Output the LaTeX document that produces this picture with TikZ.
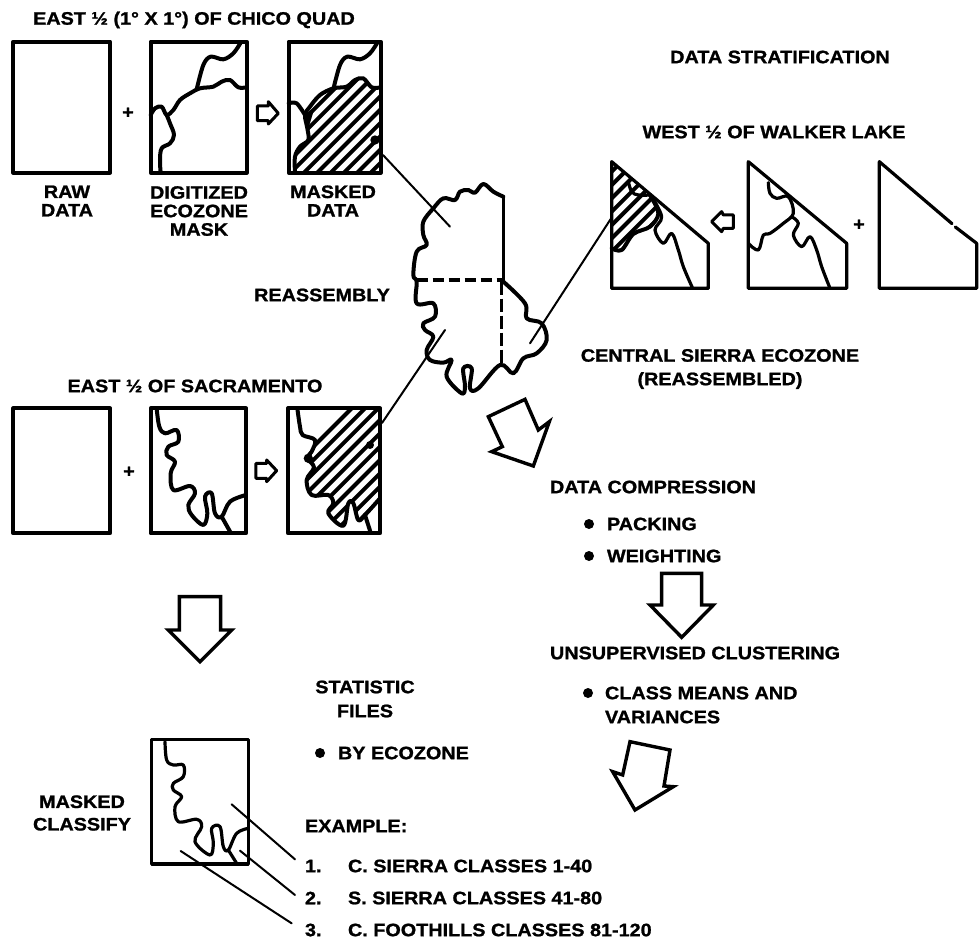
\documentclass[tikz,border=0pt]{standalone}
\usepackage{fontspec}
\setmainfont{Liberation Sans}[BoldFeatures={FakeStretch=1.1,FakeBold=1.2}]
\newcommand{\chicoBranch}[1]{plot[smooth,tension=.55] coordinates {(590+#1,268) (610+#1,195) (632+#1,170) (670+#1,178) (700+#1,160) (722+#1,128)}}
\newcommand{\sacMask}[2]{plot[smooth,tension=.6] coordinates {(470+#1,85+#2) (478+#1,140+#2) (495+#1,160+#2) (530+#1,150+#2) (535+#1,185+#2) (505+#1,200+#2) (500+#1,225+#2) (525+#1,245+#2) (512+#1,280+#2) (520+#1,330+#2) (570+#1,318+#2) (585+#1,340+#2) (565+#1,375+#2) (575+#1,405+#2) (610+#1,435+#2) (622+#1,400+#2) (615+#1,350+#2) (635+#1,340+#2) (645+#1,400+#2) (665+#1,410+#2) (690+#1,365+#2) (738+#1,345+#2)}}
\tikzset{
  lab/.style={font=\fontsize{18}{18.5}\selectfont\bfseries,inner sep=0pt,outer sep=0pt,align=center},
  labl/.style={lab,anchor=west,align=left},
  zs/.style 2 args={shift={(#1pt,-#2pt)},x=0.33333pt,y=-0.33333pt},
  heavy/.style={line width=4pt,line join=round,line cap=round},
  mid/.style={line width=3.2pt,line join=round,line cap=round},
  lead/.style={line width=2pt,line cap=round},
  arrowline/.style={line width=3.4pt,line join=miter},
  hatchline/.style={line width=4pt},
  dot/.style={circle,fill=black,inner sep=0pt,minimum size=10pt},
}
\begin{document}
\begin{tikzpicture}[x=1pt,y=-1pt]
\useasboundingbox (0,0) rectangle (980,947);
% ---- titles and labels
\node[lab] (t1) at (194,20) {EAST ½ (1° X 1°) OF CHICO QUAD};
\node[lab] (t2) at (780,57) {DATA STRATIFICATION};
\node[lab] (t3) at (774,132) {WEST ½ OF WALKER LAKE};
\node[lab] (raw) at (67,201) {RAW\\DATA};
\node[lab] (dig) at (199,211) {DIGITIZED\\ECOZONE\\MASK};
\node[lab] (mas) at (333,201) {MASKED\\DATA};
\node[lab] (rea) at (322,295) {REASSEMBLY};
\node[lab] (cen) at (720,369) {CENTRAL SIERRA ECOZONE\\[5pt](REASSEMBLED)};
\node[lab] (t4) at (195,386) {EAST ½ OF SACRAMENTO};
\node[labl] (dc) at (550,487) {DATA COMPRESSION};
\node[dot] (d1) at (589,524) {}; \node[labl] (pk) at (607,524) {PACKING};
\node[dot] (d2) at (589,556) {}; \node[labl] (wt) at (607,556) {WEIGHTING};
\node[labl] (uc) at (550,653) {UNSUPERVISED CLUSTERING};
\node[dot] (d3) at (588,693) {}; \node[labl] (cm) at (605,705) {CLASS MEANS AND\\[5.5pt]VARIANCES};
\node[lab] (st) at (365,699) {STATISTIC\\[5.5pt]FILES};
\node[dot] (d4) at (320,753) {}; \node[labl] (be) at (338,753) {BY ECOZONE};
\node[lab] (mc) at (82,813) {MASKED\\[4pt]CLASSIFY};
\node[labl] (ex) at (305,826) {EXAMPLE:};
\node[labl] (n1) at (305,866) {1.}; \node[labl] (c1) at (348,866) {C. SIERRA CLASSES 1-40};
\node[labl] (n2) at (305,898) {2.}; \node[labl] (c2) at (348,898) {S. SIERRA CLASSES 41-80};
\node[labl] (n3) at (305,930) {3.}; \node[labl] (c3) at (348,930) {C. FOOTHILLS CLASSES 81-120};
\node[lab] (p1) at (128,113) {+};
\node[lab] (p2) at (129,472) {+};
\node[lab] (p3) at (859,225) {+};
% ---- Chico row
\begin{scope}[zs={0}{0}]
\draw[heavy] (40,125) rectangle (330,518);
\draw[heavy] (452,125) rectangle (740,518);
\draw[heavy] plot[smooth,tension=.55] coordinates {(740,262) (715,262) (690,240) (665,245) (640,260) (600,265) (570,280) (540,300) (520,330) (500,345) (485,320) (465,325) (452,345)};
\draw[heavy] \chicoBranch{0};
\draw[heavy] plot[smooth,tension=.6] coordinates {(500,345) (510,370) (522,405) (510,430) (485,445) (480,480) (482,518)};
% masked
\begin{scope}
\clip (1142,262) -- (1115,262) -- (1090,235) -- (1065,240) -- (1040,260) -- (1000,265) -- (960,285) -- (930,320) -- (915,345) -- (920,380) -- (925,420) -- (900,440) -- (885,470) -- (885,518) -- (1142,518) -- cycle;
\foreach \i in {620,660,...,1180}
  \draw[hatchline] (\i,530) -- ++(420,-420);
\end{scope}
\draw[heavy] (866,125) rectangle (1142,518);
\draw[heavy] plot[smooth,tension=.55] coordinates {(1142,262) (1115,262) (1090,235) (1065,240) (1040,260) (1000,265) (960,285) (930,320) (915,345) (922,385) (925,420) (900,440) (885,470) (885,518)};
\draw[heavy] plot[smooth,tension=.55] coordinates {(866,310) (890,310) (915,345)};
\draw[heavy] \chicoBranch{410};
\fill (1125,420) circle (14);
\fill (915,345) -- (945,320) -- (925,385) -- cycle;
% small arrow
\draw[line width=3pt,line join=round] (772,318) -- (805,318) -- (805,305) -- (835,340) -- (805,372) -- (805,362) -- (772,362) -- cycle;
\end{scope}
% ---- Sacramento row
\begin{scope}[zs={0}{380}]
\draw[heavy] (40,85) rectangle (330,460);
\draw[heavy] (452,85) rectangle (738,460);
\draw[heavy] \sacMask{0}{0};
\draw[heavy] (665,410) -- (692,458);
\begin{scope}
\clip (890,85) -- (905,160) -- (945,180) -- (935,230) -- (915,235) -- (945,265) -- (920,300) -- (935,345) -- (985,345) -- (1000,370) -- (985,400) -- (1030,440) -- (1045,370) -- (1060,370) -- (1075,420) -- (1095,400) -- (1140,355) -- (1140,85) -- cycle;
\foreach \i in {620,660,...,1500}
  \draw[hatchline] (\i,520) -- ++(520,-520);
\end{scope}
\draw[heavy] (864,85) rectangle (1140,460);
\draw[heavy] plot[smooth,tension=.6] coordinates {(892,85) (900,140) (908,165) (945,180) (935,215) (922,235) (942,262) (920,300) (935,345) (985,345) (1000,370) (985,400) (1030,437) (1045,370) (1060,370) (1075,420) (1095,405) (1140,355)};
\draw[heavy] (1095,405) -- (1112,458);
\fill (925,235) circle (14);
\fill (1110,195) circle (12);
\draw[line width=3pt,line join=round] (768,250) -- (800,250) -- (800,240) -- (830,272) -- (800,305) -- (800,295) -- (768,295) -- cycle;
\end{scope}
% ---- Walker Lake row
\begin{scope}[zs={600}{80}]
\begin{scope}
\clip (35,245) -- (150,345) -- (175,400) -- (150,440) -- (100,465) -- (70,510) -- (35,505) -- cycle;
\foreach \i in {-260,-220,...,300}
  \draw[hatchline] (\i,530) -- ++(420,-420);
\end{scope}
\draw[mid] (35,245) -- (325,490) -- (325,625) -- (35,625) -- cycle;
\draw[heavy] plot[smooth,tension=.55] coordinates {(35,505) (65,510) (100,462) (150,440) (175,400) (150,345)};
\draw[mid] plot[smooth,tension=.6] coordinates {(155,350) (185,410) (165,450) (190,490) (215,460) (235,510) (250,560) (278,625)};
\draw[mid] plot[smooth,tension=.6] coordinates {(85,305) (95,335) (115,345) (150,345)};
\draw[mid] (445,245) -- (740,490) -- (740,625) -- (445,625) -- cycle;
\draw[mid] plot[smooth,tension=.6] coordinates {(505,308) (510,340) (530,355) (565,350) (580,400) (550,430) (510,460) (490,465) (475,510) (445,490)};
\draw[mid] plot[smooth,tension=.6] coordinates {(575,410) (595,430) (580,465) (605,500) (630,470) (650,510) (665,560) (690,625)};
\draw[mid] (838,245) -- (1056,431);
\draw[mid] (1066,441) -- (1130,490) -- (1130,625) -- (838,625) -- (838,245);
\draw[line width=3pt,line join=round] (400,405) -- (370,405) -- (365,395) -- (335,425) -- (365,455) -- (370,445) -- (400,445) -- cycle;
\end{scope}
% ---- Masked classify
\begin{scope}[zs={20}{720}]
\draw[mid] (395,58) rectangle (685,432);
\draw[mid] plot[smooth,tension=.6] coordinates {(435,65) (440,120) (460,135) (490,135) (490,170) (460,190) (460,210) (485,230) (465,260) (475,305) (530,298) (545,320) (525,365) (570,405) (580,370) (575,325) (600,320) (610,380) (625,390) (650,340) (685,325)};
\draw[mid] (625,390) -- (650,430);
\coordinate (a1) at (635,253); \coordinate (b1) at (825,418);
\coordinate (a2) at (660,392); \coordinate (b2) at (825,525);
\coordinate (a3) at (482,393); \coordinate (b3) at (815,610);
\draw[lead] (a1) -- (b1);
\draw[lead] (a2) -- (b2);
\draw[lead] (a3) -- (b3);
\end{scope}
% ---- Reassembled ecozone
\begin{scope}[zs={400}{180}]
\draw[heavy] plot[smooth,tension=.6] coordinates {(310,50) (280,35) (250,12) (225,38) (205,30) (180,35) (165,60) (130,55) (100,85) (70,125) (70,165) (80,195) (50,215) (40,285) (50,305) (50,370) (100,370) (105,410) (70,430) (75,450) (100,470) (80,510) (90,540) (130,548) (155,540) (140,590) (185,640) (195,620) (190,565) (215,565) (210,625) (235,625) (300,555) (340,580) (370,535) (410,520) (440,480) (425,430) (380,415) (375,370) (310,305)};
\draw[mid] (310,50) -- (310,305);
\draw[mid,line cap=butt,dash pattern=on 11pt off 5pt] (50,300) -- (310,300);
\draw[mid,line cap=butt,dash pattern=on 13pt off 4pt] (305,305) -- (305,555);
\coordinate (r1) at (150,140);
\coordinate (r2) at (135,450);
\coordinate (r3) at (390,490);
\end{scope}
\coordinate (s1) at (383,155);
\coordinate (s2) at (382,423);
\coordinate (s3) at (612,217);
\draw[lead] (s1) -- (r1);
\draw[lead] (s2) -- (r2);
\draw[lead] (s3) -- (r3);
% ---- big hollow arrows
\begin{scope}[zs={470}{380}]
\draw[arrowline] (165,58) -- (55,110) -- (97,200) -- (65,215) -- (190,258) -- (238,125) -- (205,150) -- cycle;
\end{scope}
\begin{scope}[zs={550}{480}]
\draw[arrowline] (335,280) -- (455,280) -- (455,375) -- (490,375) -- (395,472) -- (300,375) -- (335,375) -- cycle;
\end{scope}
\begin{scope}[zs={170}{570}]
\draw[arrowline] (28,80) -- (152,80) -- (152,180) -- (185,180) -- (90,275) -- (-5,180) -- (28,180) -- cycle;
\end{scope}
\begin{scope}[zs={320}{660}]
\draw[arrowline] (930,245) -- (1050,270) -- (1032,378) -- (1060,380) -- (945,450) -- (878,335) -- (908,345) -- cycle;
\end{scope}
\end{tikzpicture}
\end{document}
